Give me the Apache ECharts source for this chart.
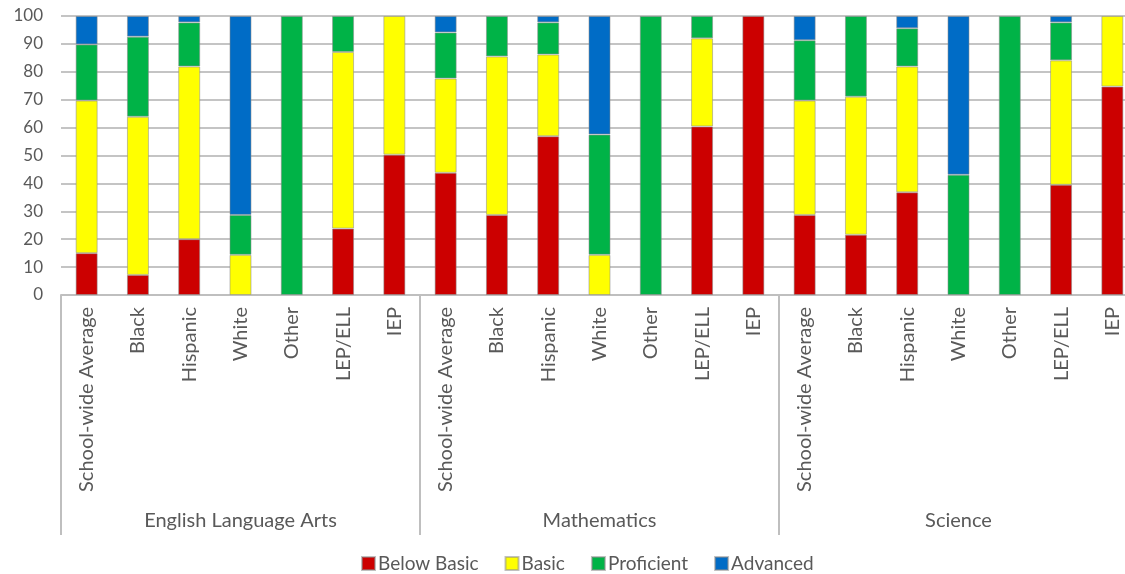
<!DOCTYPE html>
<html><head><meta charset="utf-8">
<script src="https://cdn.jsdelivr.net/npm/echarts@6/dist/echarts.min.js"></script>
<style>html,body{margin:0;padding:0;background:#fff;overflow:hidden;width:1125px;height:574px}#c{width:1140px;height:574px}</style>
</head><body><div id="c"></div>
<script>
const groups = ['English Language Arts', 'Mathematics', 'Science'];
const subgroups = ['School-wide Average', 'Black', 'Hispanic', 'White', 'Other', 'LEP/ELL', 'IEP'];
const categories = [].concat(subgroups, subgroups, subgroups);
const seriesNames = ['Below Basic', 'Basic', 'Proficient', 'Advanced'];
const belowBasic = [15.0, 7.2, 20.0, 0, 0, 23.8, 50.3,   43.8, 28.7, 56.9, 0, 0, 60.4, 100,   28.7, 21.6, 36.8, 0, 0, 39.5, 74.7];
const basic      = [54.7, 56.7, 61.9, 14.4, 0, 63.3, 49.7, 33.8, 56.8, 29.3, 14.4, 0, 31.6, 0,  41.0, 49.5, 45.1, 0, 0, 44.6, 25.3];
const proficient = [20.1, 28.7, 15.8, 14.3, 100, 12.9, 0,  16.5, 14.5, 11.5, 43.1, 100, 8.0, 0,  21.6, 28.9, 13.7, 43.1, 100, 13.6, 0];
const advanced   = [10.2, 7.4, 2.3, 71.3, 0, 0, 0,         5.9, 0, 2.3, 42.5, 0, 0, 0,          8.7, 0, 4.4, 56.9, 0, 2.3, 0];
const yTicks = [0, 10, 20, 30, 40, 50, 60, 70, 80, 90, 100];
const colors = ['#CC0000', '#FFFF00', '#00B347', '#006CC6'];

const chart = echarts.init(document.getElementById('c'));
const values = [belowBasic, basic, proficient, advanced];
const txt = '#595959';
chart.setOption({
  animation: false,
  textStyle: { fontFamily: 'Lato' },
  grid: { left: 61, top: 16, width: 1077, height: 279 },
  legend: {
    top: 549, left: 356, itemWidth: 13, itemHeight: 13, itemGap: 26,
    icon: 'rect',
    textStyle: { color: txt, fontSize: 19, fontFamily: 'Lato', padding: [0, 0, 0, -2] },
    data: seriesNames
  },
  xAxis: [{
    type: 'category', data: categories, position: 'bottom',
    axisLine: { lineStyle: { color: '#BFBFBF', width: 2 } },
    axisTick: { show: false },
    axisLabel: { rotate: 90, interval: 0, color: txt, fontSize: 20, margin: 12, fontFamily: 'Lato' }
  }, {
    type: 'category', data: groups, position: 'bottom',
    axisLine: { show: false },
    axisTick: { show: true, length: 240, lineStyle: { color: '#BFBFBF', width: 2 } },
    axisLabel: { color: txt, fontSize: 20, margin: 216, fontFamily: 'Lato' }
  }],
  yAxis: {
    type: 'value', min: 0, max: 100, interval: 10,
    axisLine: { show: false }, axisTick: { show: false },
    splitLine: { lineStyle: { color: '#C4C4C4', width: 2 } },
    axisLabel: { color: txt, fontSize: 17, margin: 18, fontFamily: 'Lato',
      formatter: v => yTicks.includes(v) ? String(v) : '' }
  },
  series: seriesNames.map((n, i) => ({
    name: n, type: 'bar', stack: 'total', xAxisIndex: 0,
    barWidth: 22, data: values[i].map(v => v === 0 ? '-' : v),
    itemStyle: { color: colors[i], borderColor: 'rgba(140,140,140,0.55)', borderWidth: 1 }
  }))
});
</script></body></html>
